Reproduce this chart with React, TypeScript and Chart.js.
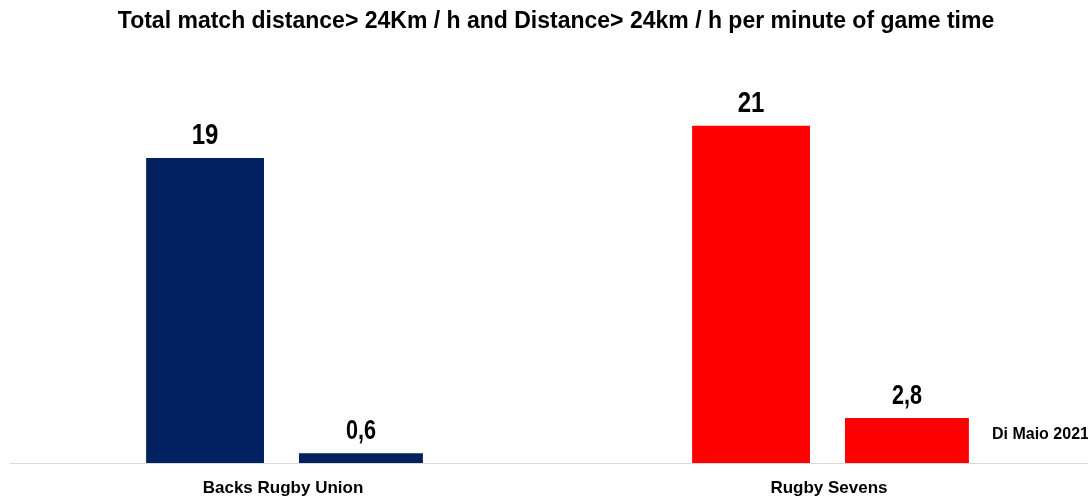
import React, { useEffect, useRef } from "react";
import { Chart, registerables } from "chart.js";

Chart.register(...registerables);

const categories = ["Backs Rugby Union", "Rugby Sevens"];
const totalDistance = [19, 21];
const perMinute = [0.6, 2.8];
const barColors = ["#002060", "#FF0000"];
const titleText = "Total match distance> 24Km / h and Distance> 24km / h per minute of game time";
const sourceText = "Di Maio 2021";

const fmt = (v: number) => String(v).replace(".", ",");

const labelPlugin = {
  id: "valueLabels",
  afterDatasetsDraw(chart: any) {
    const ctx = chart.ctx;
    ctx.save();
    chart.data.datasets.forEach((ds: any, di: number) => {
      const meta = chart.getDatasetMeta(di);
      ctx.font = di === 0 ? "bold 30px 'Liberation Sans'" : "bold 27px 'Liberation Sans'";
      ctx.fillStyle = "#000";
      ctx.textAlign = "center";
      ctx.textBaseline = "alphabetic";
      meta.data.forEach((el: any, i: number) => {
        ctx.save();
        ctx.translate(el.x, el.y - 14);
        ctx.scale(0.8, 1);
        ctx.fillText(fmt(ds.data[i]), 0, 0);
        ctx.restore();
      });
    });
    const area = chart.chartArea;
    ctx.font = "bold 16px 'Liberation Sans'";
    ctx.fillStyle = "#000";
    ctx.textAlign = "left";
    ctx.textBaseline = "middle";
    ctx.fillText(sourceText, area.right - 110, area.bottom - 28);
    ctx.restore();
  },
};

export default function App() {
  const ref = useRef<HTMLCanvasElement>(null);
  useEffect(() => {
    document.body.style.margin = "0";
    const chart = new Chart(ref.current!, {
      type: "bar",
      data: {
        labels: categories,
        datasets: [
          {
            label: "Total",
            data: totalDistance,
            backgroundColor: barColors,
            barPercentage: 0.756,
            categoryPercentage: 0.571,
          },
          {
            label: "Per minute",
            data: perMinute,
            backgroundColor: barColors,
            barPercentage: 0.795,
            categoryPercentage: 0.571,
          },
        ],
      },
      options: {
        responsive: false,
        animation: false,
        layout: { padding: { left: 10, right: 0, top: 0, bottom: 1 } },
        plugins: {
          legend: { display: false },
          tooltip: { enabled: false },
          title: {
            display: true,
            text: titleText,
            color: "#000",
            font: { family: "'Liberation Sans'", size: 23, weight: "bold" },
            padding: { top: 8, bottom: 26 },
          },
        },
        scales: {
          x: {
            grid: { display: false, drawTicks: false },
            border: { display: true, color: "#d9d9d9", width: 1 },
            ticks: {
              color: "#000",
              padding: 15,
              font: { family: "'Liberation Sans'", size: 17, weight: "bold" },
            },
            afterFit: (scale: any) => {
              scale.height = 35;
            },
          },
          y: {
            display: false,
            min: 0,
            max: 25,
          },
        },
      },
      plugins: [labelPlugin],
    });
    return () => chart.destroy();
  }, []);
  return (
    <div style={{ position: "fixed", left: 0, top: 0, width: 1088, height: 499, overflow: "hidden", background: "#fff" }}>
      <canvas ref={ref} width={1102} height={499} />
    </div>
  );
}
